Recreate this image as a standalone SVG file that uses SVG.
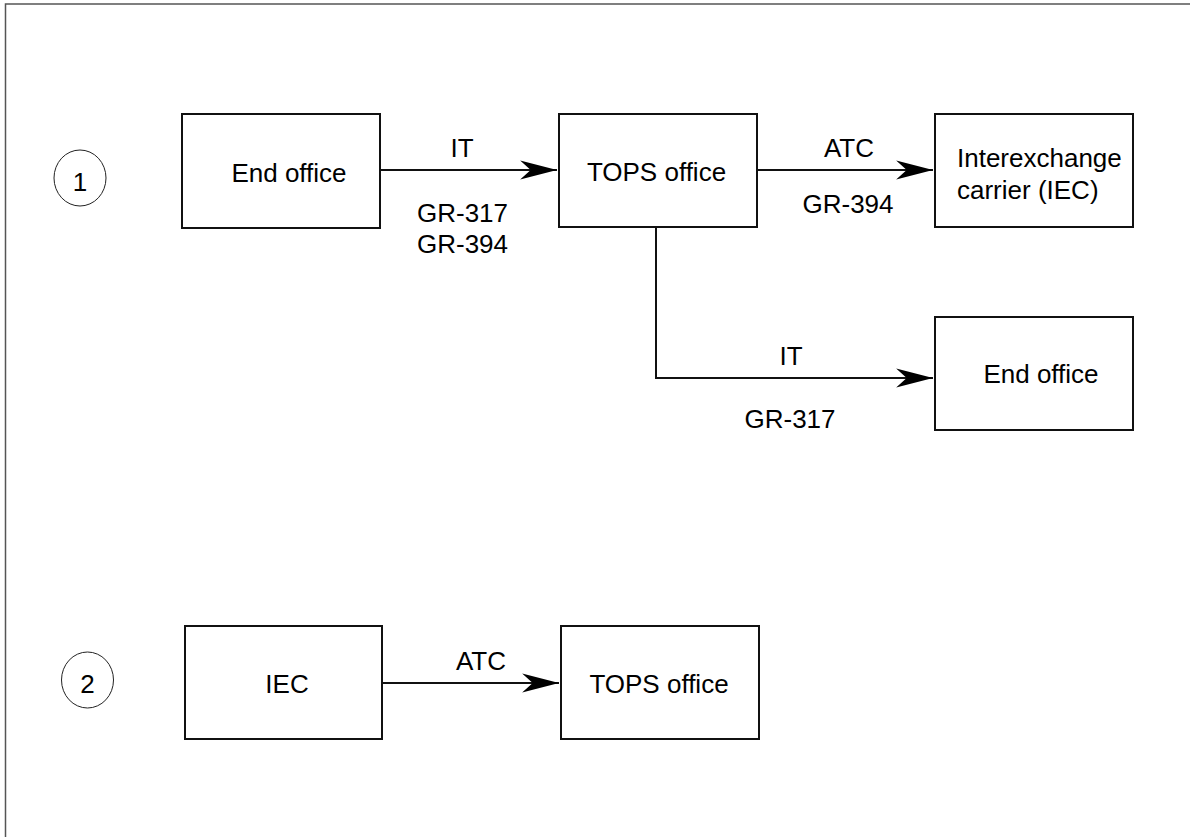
<svg xmlns="http://www.w3.org/2000/svg" width="1190" height="837" viewBox="0 0 1190 837">
<defs>
<marker id="arr" markerUnits="userSpaceOnUse" markerWidth="40" markerHeight="24" viewBox="-36 -10 38 20" refX="0" refY="0" orient="auto">
<path d="M0,0 L-35,-9 L-25,0 L-35,9 Z" fill="#000"/>
</marker>
</defs>
<style>
text{font-family:"Liberation Sans",Arial,sans-serif;font-size:26px;fill:#000}
.box{fill:#fff;stroke:#111;stroke-width:2}
.num{fill:none;stroke:#222;stroke-width:1}
.c{text-anchor:middle}
.ln{fill:none;stroke:#111;stroke-width:2}
</style>
<rect width="1190" height="837" fill="#fff"/>
<path d="M5.5,837 V4 H1190" fill="none" stroke="#555" stroke-width="1.5"/>
<g id="marker1"><ellipse class="num" cx="80" cy="178" rx="26" ry="28"/><text class="c" x="80" y="191">1</text></g>
<g id="marker2"><ellipse class="num" cx="87.5" cy="680" rx="26" ry="28"/><text class="c" x="87.5" y="693">2</text></g>
<g id="endoffice1"><rect class="box" x="182" y="114" width="198" height="114"/><text class="c" x="289" y="182">End office</text></g>
<g id="tops1"><rect class="box" x="559" y="114" width="198" height="113"/><text class="c" x="656.5" y="181">TOPS office</text></g>
<g id="iec1"><rect class="box" x="935" y="114" width="198" height="113"/><text x="957" y="167">Interexchange</text><text x="957" y="199">carrier (IEC)</text></g>
<g id="endoffice2"><rect class="box" x="935" y="317" width="198" height="113"/><text class="c" x="1041" y="383">End office</text></g>
<g id="iec2"><rect class="box" x="185" y="626" width="197" height="113"/><text class="c" x="287" y="693">IEC</text></g>
<g id="tops2"><rect class="box" x="561" y="626" width="198" height="113"/><text class="c" x="659" y="693">TOPS office</text></g>
<g id="connectors">
<path class="ln" d="M380,170 H557" marker-end="url(#arr)"/>
<path class="ln" d="M757,170 H933" marker-end="url(#arr)"/>
<path class="ln" d="M656,227 V378 H933" marker-end="url(#arr)"/>
<path class="ln" d="M382,683 H559" marker-end="url(#arr)"/>
<text class="c" x="462" y="157">IT</text>
<text x="417" y="222">GR-317</text>
<text x="417" y="253">GR-394</text>
<text class="c" x="849" y="157">ATC</text>
<text class="c" x="848" y="213">GR-394</text>
<text class="c" x="791" y="365">IT</text>
<text class="c" x="790" y="428">GR-317</text>
<text class="c" x="481" y="670">ATC</text>
</g>
</svg>
